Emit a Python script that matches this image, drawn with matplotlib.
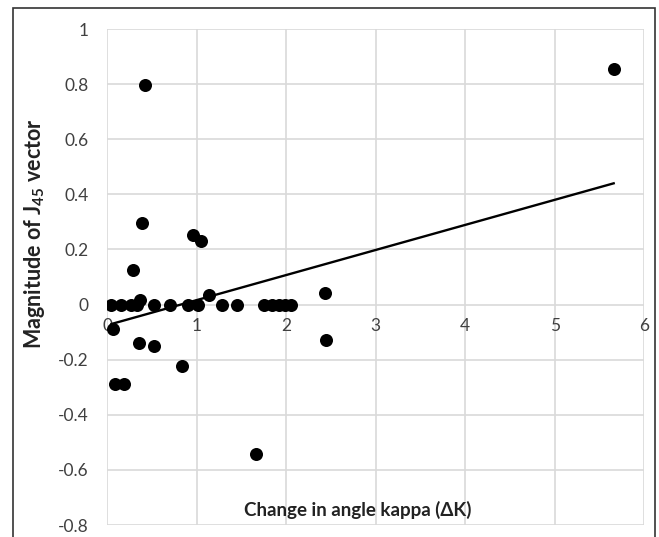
import numpy as np
import matplotlib
matplotlib.use("Agg")
import matplotlib.pyplot as plt
from matplotlib.patches import Rectangle

# change in angle kappa vs magnitude of J45 vector
kappa = [5.66, 0.42, 0.39, 0.96, 1.05, 0.29,
         0.05, 0.16, 0.27, 0.33, 0.37, 0.52, 0.70, 0.91, 1.02, 1.28, 1.45,
         1.75, 1.84, 1.92, 1.99, 2.06, 1.14, 2.44,
         0.07, 0.36, 0.52, 0.84, 0.09, 0.19, 1.66, 2.45]
j45 = [0.856, 0.798, 0.295, 0.253, 0.232, 0.127,
       0.0, 0.0, 0.0, 0.0, 0.017, 0.0, 0.0, 0.0, 0.0, 0.0, 0.0,
       0.0, 0.0, 0.0, 0.0, 0.0, 0.036, 0.041,
       -0.088, -0.14, -0.152, -0.224, -0.289, -0.289, -0.543, -0.128]

xticks = [0, 1, 2, 3, 4, 5, 6]
yticks = [-0.8, -0.6, -0.4, -0.2, 0, 0.2, 0.4, 0.6, 0.8, 1]

plt.rcParams["font.family"] = ["Lato", "DejaVu Sans"]
plt.rcParams["mathtext.fontset"] = "custom"
plt.rcParams["mathtext.rm"] = "Lato"
plt.rcParams["mathtext.bf"] = "Lato:bold"

fig = plt.figure(figsize=(6.59, 5.37), dpi=100)
ax = fig.add_axes([0.1624, 0.0223, 0.815, 0.9236])

ax.scatter(kappa, j45, s=88, color="black", zorder=3, linewidths=0)

# linear trendline
k = np.array(kappa)
slope, icept = np.polyfit(k, np.array(j45), 1)
tx = np.array([k.min(), k.max()])
ax.plot(tx, slope * tx + icept, color="black", lw=1.7, zorder=2)

ax.set_xlim(0, 6)
ax.set_ylim(-0.8, 1)
ax.set_xticks(xticks)
ax.set_yticks(yticks)
ax.set_xticklabels([str(v) for v in xticks])
ax.set_yticklabels(["0" if v == 0 else f"{v:g}" for v in yticks])
ax.grid(True, color="#d9d9d9", lw=1.2)
ax.set_axisbelow(True)
for s in ax.spines.values():
    s.set_visible(False)
ax.spines["bottom"].set_position(("data", 0))
ax.tick_params(axis="both", length=0, labelsize=12.5, colors="#404040")
ax.tick_params(axis="x", pad=10)
ax.tick_params(axis="y", pad=13)

fig.text(0.543, 0.05, "Change in angle kappa (\u0394K)", ha="center", va="center",
         fontsize=13.5, fontweight="bold", color="#222222")
fig.text(0.052, 0.564, r"Magnitude of J$_{\mathbf{45}}$ vector", ha="center", va="center",
         rotation=90, fontsize=15.5, fontweight="bold", color="#222222")

fig.patches.append(Rectangle((0.0197, -0.02), 0.974, 1.005, transform=fig.transFigure,
                             fill=False, edgecolor="#333333", lw=1.2))

fig.savefig("out.png", dpi=100)
